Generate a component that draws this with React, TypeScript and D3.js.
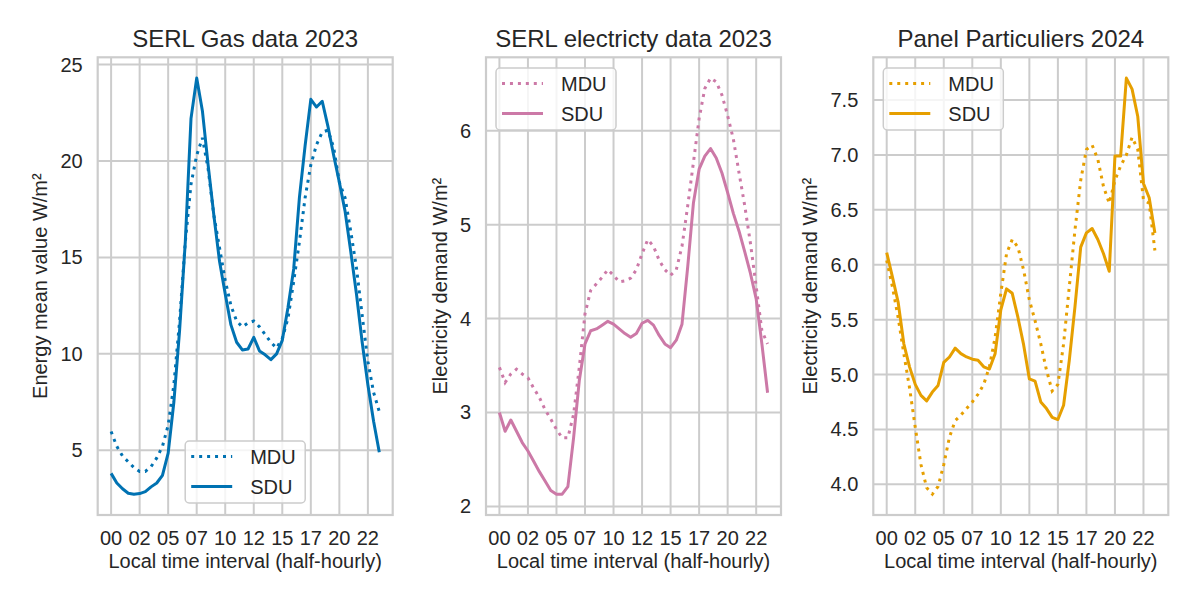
import React from 'react';
import * as d3 from 'd3';

// half-hourly slots 00:00 .. 23:30
const xTickIdx = [0, 5, 10, 15, 20, 25, 30, 35, 40, 45];
const xTickLabels = ['00', '02', '05', '07', '10', '12', '15', '17', '20', '22'];

const gasMDU = [5.97, 5.2, 4.7, 4.4, 4.1, 3.9, 3.9, 4.15, 4.6, 5.2, 6.3, 8.4, 11.7, 15.8, 18.8, 20.3, 21.2, 19.6, 17.2, 15.5, 13.8, 12.5, 11.7, 11.4,
  11.6, 11.7, 11.4, 11.0, 10.6, 10.3, 10.8, 11.85, 13.75, 15.8, 18.1, 19.8, 20.85, 21.5, 21.6, 20.7, 18.9, 18.1, 16.35, 14.45, 12.0, 9.6, 8.0, 7.0];
const gasSDU = [3.8, 3.3, 3.0, 2.77, 2.72, 2.75, 2.85, 3.1, 3.3, 3.7, 4.85, 7.5, 11.2, 15.8, 22.2, 24.3, 22.6, 19.8, 17.2, 14.8, 13.1, 11.5, 10.6, 10.2,
  10.25, 10.85, 10.15, 9.95, 9.7, 10.0, 10.7, 12.4, 14.4, 18.1, 20.8, 23.2, 22.8, 23.1, 21.8, 20.3, 18.9, 17.4, 15.3, 13.1, 10.6, 8.4, 6.5, 4.9];

const serlMDU = [3.48, 3.32, 3.41, 3.46, 3.41, 3.37, 3.26, 3.16, 3.03, 2.93, 2.82, 2.73, 2.73, 2.98, 3.48, 4.05, 4.3, 4.37, 4.44, 4.52, 4.46, 4.39, 4.4, 4.43,
  4.52, 4.69, 4.84, 4.77, 4.62, 4.52, 4.46, 4.52, 4.77, 5.2, 5.66, 6.13, 6.45, 6.56, 6.52, 6.38, 6.16, 5.91, 5.55, 5.2, 4.8, 4.34, 3.87, 3.73];
const serlSDU = [3.0, 2.8, 2.92, 2.8, 2.68, 2.59, 2.48, 2.37, 2.27, 2.17, 2.13, 2.13, 2.21, 2.73, 3.34, 3.73, 3.87, 3.89, 3.93, 3.97, 3.94, 3.89, 3.84, 3.8,
  3.84, 3.95, 3.98, 3.93, 3.82, 3.73, 3.69, 3.77, 3.94, 4.55, 5.23, 5.59, 5.73, 5.81, 5.71, 5.55, 5.34, 5.12, 4.93, 4.71, 4.48, 4.21, 3.73, 3.21];

const ppMDU = [6.04, 5.8, 5.52, 5.19, 4.88, 4.52, 4.18, 3.97, 3.91, 3.98, 4.18, 4.43, 4.58, 4.63, 4.69, 4.75, 4.82, 4.91, 5.07, 5.34, 5.74, 6.1, 6.23, 6.16,
  5.95, 5.68, 5.49, 5.28, 5.04, 4.85, 4.91, 5.28, 5.8, 6.32, 6.77, 7.05, 7.09, 6.96, 6.71, 6.56, 6.77, 6.9, 7.0, 7.16, 7.05, 6.59, 6.56, 6.13];
const ppSDU = [6.11, 5.89, 5.66, 5.28, 5.07, 4.91, 4.81, 4.76, 4.84, 4.9, 5.11, 5.16, 5.24, 5.19, 5.16, 5.14, 5.13, 5.07, 5.05, 5.19, 5.59, 5.78, 5.74, 5.52,
  5.27, 4.96, 4.94, 4.75, 4.69, 4.61, 4.59, 4.72, 5.13, 5.62, 6.16, 6.29, 6.33, 6.23, 6.1, 5.94, 6.99, 6.99, 7.7, 7.6, 7.35, 6.74, 6.61, 6.29];

const titles = ['SERL Gas data 2023', 'SERL electricty data 2023', 'Panel Particuliers 2024'];
const yLabels = ['Energy mean value W/m²', 'Electricity demand W/m²', 'Electricity demand W/m²'];
const yTicks = [[5, 10, 15, 20, 25], [2, 3, 4, 5, 6], [4.0, 4.5, 5.0, 5.5, 6.0, 6.5, 7.0, 7.5]];
const colors = ['#0072B2', '#CC79A7', '#E69F00'];
const seriesNames = ['MDU', 'SDU'];

const W = 1200;
const H = 596;
const FONT = '"Liberation Sans", Arial, sans-serif';
const TXT = '#262626';
const GRID = '#cccccc';

const panels = [
  { mdu: gasMDU, sdu: gasSDU, left: 97.7, ylabX: 50.5, fmt: d3.format('d'), legend: 'lower center' },
  { mdu: serlMDU, sdu: serlSDU, left: 486, ylabX: 39, fmt: d3.format('d'), legend: 'upper left' },
  { mdu: ppMDU, sdu: ppSDU, left: 873.3, ylabX: 56, fmt: d3.format('.1f'), legend: 'upper left' },
];

const top = 57.3;
const bottom = 515;
const pw = 295;

// matplotlib-like autoscale with 5% margins
const padded = (lo: number, hi: number) => {
  const m = (hi - lo) * 0.05;
  return [lo - m, hi + m];
};

const Panel = ({ p, i }: { p: any; i: number }) => {
  const n = p.mdu.length;
  const x = d3.scaleLinear().domain(padded(0, n - 1)).range([p.left, p.left + pw]);
  const all = [...p.mdu, ...p.sdu];
  const y = d3.scaleLinear().domain(padded(d3.min(all)!, d3.max(all)!)).range([bottom, top]);
  const line = d3.line<number>().x((_, k) => x(k)).y(d => y(d));
  const color = colors[i];
  const cx = p.left + pw / 2;

  const lw = 120;
  const lh = 62;
  const lx = p.legend === 'lower center' ? cx - lw / 2 : p.left + 10;
  const ly = p.legend === 'lower center' ? bottom - 12 - lh : top + 10.7;

  return (
    <g>
      {/* grid */}
      {xTickIdx.map(t => (
        <line key={'gx' + t} x1={x(t)} x2={x(t)} y1={top} y2={bottom} stroke={GRID} strokeWidth={2} />
      ))}
      {yTicks[i].map(t => (
        <line key={'gy' + t} x1={p.left} x2={p.left + pw} y1={y(t)} y2={y(t)} stroke={GRID} strokeWidth={2} />
      ))}
      <rect x={p.left} y={top} width={pw} height={bottom - top} fill="none" stroke={GRID} strokeWidth={2.2} />

      {/* series */}
      <path d={line(p.mdu)!} fill="none" stroke={color} strokeWidth={3} strokeDasharray="3 4.95" />
      <path d={line(p.sdu)!} fill="none" stroke={color} strokeWidth={3} strokeLinejoin="round" />

      {/* ticks */}
      {xTickIdx.map((t, k) => (
        <text key={'tx' + t} x={x(t)} y={544.5} textAnchor="middle" fontSize={20} fill={TXT}>{xTickLabels[k]}</text>
      ))}
      {yTicks[i].map(t => (
        <text key={'ty' + t} x={p.left - 15} y={y(t)} dy="0.35em" textAnchor="end" fontSize={20} fill={TXT}>{p.fmt(t)}</text>
      ))}

      {/* labels */}
      <text x={cx} y={46.7} textAnchor="middle" fontSize={24} fill={TXT}>{titles[i]}</text>
      <text x={cx} y={568.3} textAnchor="middle" fontSize={20} fill={TXT}>Local time interval (half-hourly)</text>
      <text transform={`translate(${p.left - p.ylabX},${(top + bottom) / 2}) rotate(-90)`} textAnchor="middle" fontSize={20} fill={TXT}>
        {yLabels[i]}
      </text>

      {/* legend */}
      <rect x={lx} y={ly} width={lw} height={lh} rx={4} fill="white" fillOpacity={0.8} stroke={GRID} strokeWidth={1.5} />
      {seriesNames.map((s, k) => {
        const ry = ly + 15.5 + k * 30;
        return (
          <g key={s}>
            <line x1={lx + 6} x2={lx + 47} y1={ry} y2={ry} stroke={color} strokeWidth={3}
              strokeDasharray={k === 0 ? '3 4.95' : undefined} />
            <text x={lx + 65} y={ry} dy="0.35em" fontSize={20} fill={TXT}>{s}</text>
          </g>
        );
      })}
    </g>
  );
};

export default function App() {
  return (
    <svg width={W} height={H} style={{ position: 'absolute', left: 0, top: 0, background: 'white' }} fontFamily={FONT}>
      <rect width={W} height={H} fill="white" />
      {panels.map((p, i) => <Panel key={i} p={p} i={i} />)}
    </svg>
  );
}
